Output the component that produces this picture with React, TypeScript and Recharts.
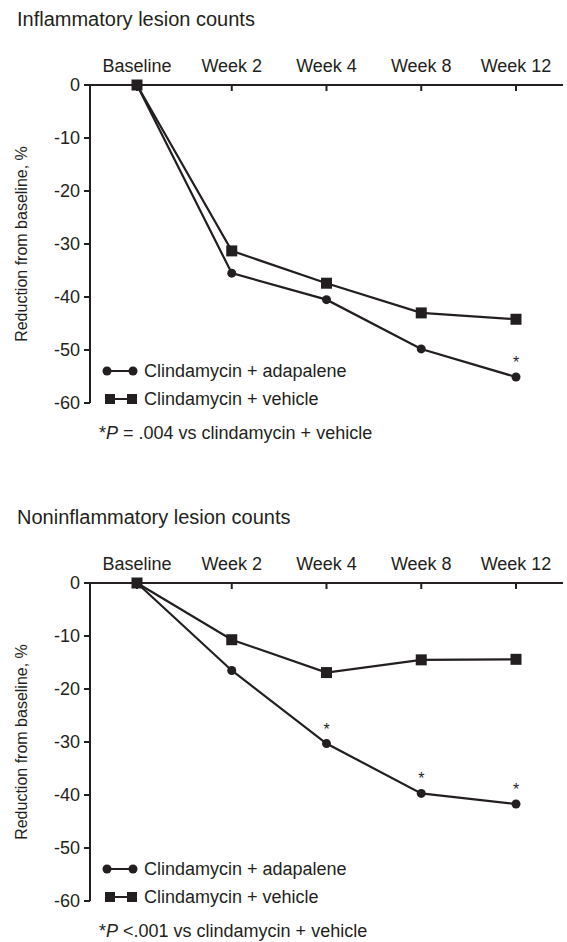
import { LineChart, Line, XAxis, YAxis, LabelList } from 'recharts'

const weeks = ['Baseline', 'Week 2', 'Week 4', 'Week 8', 'Week 12']
const yTicks = [0, -10, -20, -30, -40, -50, -60]

const inflamAdapalene = [0, -35.5, -40.5, -49.8, -55.1]
const inflamVehicle = [0, -31.3, -37.4, -43.0, -44.2]
const inflamSig = [false, false, false, false, true]

const noninflamAdapalene = [0, -16.5, -30.3, -39.7, -41.7]
const noninflamVehicle = [0, -10.7, -16.9, -14.5, -14.4]
const noninflamSig = [false, false, true, true, true]

const ink = '#231f20'
const font = '"Liberation Sans", Arial, Helvetica, sans-serif'

function buildRows(adapalene: number[], vehicle: number[], sig: boolean[]) {
  return weeks.map((week, i) => ({
    week,
    adapalene: adapalene[i],
    vehicle: vehicle[i],
    star: sig[i] ? '*' : '',
  }))
}

// x axis sits on top, but its tick marks point down into the plot
function WeekTick({ x, y, payload }: any) {
  return (
    <g>
      <text x={x} y={y} textAnchor="middle" fontSize={18} fill={ink} fontFamily={font}>
        {payload.value}
      </text>
      <line x1={x} x2={x} y1={y + 13} y2={y + 19} stroke={ink} strokeWidth={2} />
    </g>
  )
}

function SquareDot({ cx, cy }: any) {
  if (cx == null || cy == null) return null
  return <rect x={cx - 5.5} y={cy - 5.5} width={11} height={11} fill={ink} />
}

function Star(p: any) {
  if (!p.value) return null
  const x = p.x ?? p.viewBox?.x
  const y = p.y ?? p.viewBox?.y
  return (
    <text x={x} y={y - 9} textAnchor="middle" fontSize={16} fill={ink} fontFamily={font}>
      *
    </text>
  )
}

function LegendRows() {
  const row = { display: 'flex', alignItems: 'center', height: 28 } as const
  return (
    <div style={{ position: 'absolute', left: 100, top: 357, fontFamily: font, fontSize: 18, color: ink }}>
      <div style={row}>
        <svg width={44} height={14}>
          <line x1={7} x2={33} y1={7} y2={7} stroke={ink} strokeWidth={2} />
          <circle cx={7} cy={7} r={4.5} fill={ink} />
          <circle cx={33} cy={7} r={4.5} fill={ink} />
        </svg>
        <span>Clindamycin + adapalene</span>
      </div>
      <div style={row}>
        <svg width={44} height={14}>
          <line x1={10} x2={32} y1={7} y2={7} stroke={ink} strokeWidth={2} />
          <rect x={5} y={2} width={10} height={10} fill={ink} />
          <rect x={27} y={2} width={10} height={10} fill={ink} />
        </svg>
        <span>Clindamycin + vehicle</span>
      </div>
    </div>
  )
}

interface PanelProps {
  title: string
  adapalene: number[]
  vehicle: number[]
  sig: boolean[]
  note: React.ReactNode
  height: number
}

function Panel({ title, adapalene, vehicle, sig, note, height }: PanelProps) {
  const rows = buildRows(adapalene, vehicle, sig)
  return (
    <div style={{ position: 'relative', width: 567, height }}>
      <div style={{ position: 'absolute', left: 17, top: 9, fontFamily: font, fontSize: 20, lineHeight: 1, color: ink }}>
        {title}
      </div>
      <div
        style={{
          position: 'absolute',
          left: 22,
          top: 244,
          transform: 'translate(-50%, -50%) rotate(-90deg)',
          whiteSpace: 'nowrap',
          fontFamily: font,
          fontSize: 16,
          color: ink,
        }}
      >
        Reduction from baseline, %
      </div>
      <div style={{ position: 'absolute', left: 0, top: 0 }}>
        <LineChart width={567} height={444} data={rows} margin={{ top: 45, right: 4, bottom: 41, left: 30 }}>
          <XAxis
            dataKey="week"
            orientation="top"
            height={40}
            interval={0}
            padding={{ left: 47, right: 47 }}
            tickSize={0}
            tickMargin={13}
            tickLine={false}
            axisLine={{ stroke: ink, strokeWidth: 2 }}
            tick={<WeekTick />}
          />
          <YAxis
            type="number"
            domain={[-60, 0]}
            ticks={yTicks}
            interval={0}
            width={60}
            tickSize={6}
            tickMargin={4}
            axisLine={{ stroke: ink, strokeWidth: 2 }}
            tickLine={{ stroke: ink, strokeWidth: 2 }}
            tick={{ fontSize: 18, fill: ink, fontFamily: font }}
          />
          <Line
            dataKey="adapalene"
            type="linear"
            stroke={ink}
            strokeWidth={2.2}
            dot={{ r: 4.5, fill: ink, stroke: ink, strokeWidth: 0 }}
            activeDot={false}
            isAnimationActive={false}
          >
            <LabelList dataKey="star" content={<Star />} />
          </Line>
          <Line
            dataKey="vehicle"
            type="linear"
            stroke={ink}
            strokeWidth={2.2}
            dot={<SquareDot />}
            activeDot={false}
            isAnimationActive={false}
          />
        </LineChart>
      </div>
      <LegendRows />
      <div style={{ position: 'absolute', left: 99, top: 424, fontFamily: font, fontSize: 18, lineHeight: 1, color: ink, whiteSpace: 'nowrap' }}>
        {note}
      </div>
    </div>
  )
}

export default function App() {
  return (
    <div style={{ width: 567, height: 942, background: '#fff', overflow: 'hidden' }}>
      <style>{'body{margin:0}'}</style>
      <Panel
        title="Inflammatory lesion counts"
        adapalene={inflamAdapalene}
        vehicle={inflamVehicle}
        sig={inflamSig}
        note={<>*<i>P</i> = .004 vs clindamycin + vehicle</>}
        height={498}
      />
      <Panel
        title="Noninflammatory lesion counts"
        adapalene={noninflamAdapalene}
        vehicle={noninflamVehicle}
        sig={noninflamSig}
        note={<>*<i>P</i> &lt;.001 vs clindamycin + vehicle</>}
        height={444}
      />
    </div>
  )
}
